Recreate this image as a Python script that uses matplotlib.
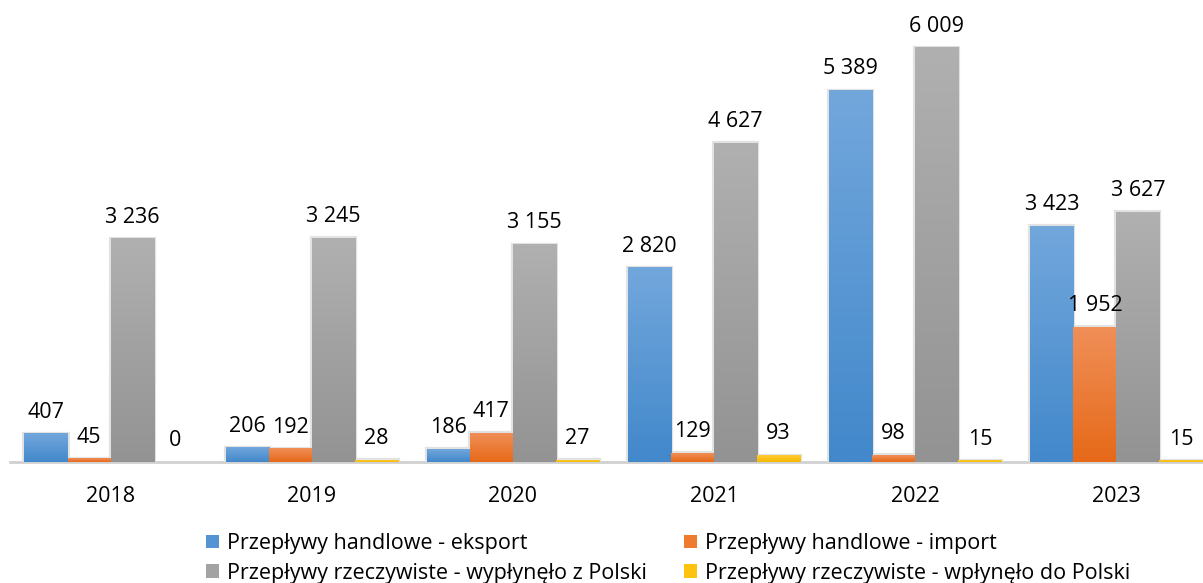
import matplotlib.pyplot as plt
import numpy as np
from matplotlib.colors import to_rgb
from matplotlib.patches import Patch

# dane [mln zl]
lata = ['2018', '2019', '2020', '2021', '2022', '2023']
eksport = [407, 206, 186, 2820, 5389, 3423]
imp = [45, 192, 417, 129, 98, 1952]
wyplynelo = [3236, 3245, 3155, 4627, 6009, 3627]
wplynelo = [0, 28, 27, 93, 15, 15]

nazwy = ['Przepływy handlowe - eksport',
         'Przepływy handlowe - import',
         'Przepływy rzeczywiste - wypłynęło z Polski',
         'Przepływy rzeczywiste - wpłynęło do Polski']
serie = [eksport, imp, wyplynelo, wplynelo]
kolory = ['#5593D3', '#EE7B2E', '#A3A3A3', '#FFC20E']
# gradient: gora / dol
grad = [('#72A7DC', '#4288CB'), ('#F08F58', '#E66918'),
        ('#B0B0B0', '#939393'), ('#FFCB35', '#F4B800')]

plt.rcParams['font.family'] = ['Open Sans', 'DejaVu Sans']
fs = 15.5

fig = plt.figure(figsize=(12.03, 5.83), dpi=100)
# os x wychodzi poza prawa krawedz (obciety wykres)
ax = fig.add_axes([10 / 1203, 121 / 583, 1207 / 1203, 448 / 583])

x = np.arange(len(lata))
w = 0.214
for i, (s, c) in enumerate(zip(serie, kolory)):
    pos = x + (i - 1.5) * w
    lw = [3 if v > 0 else 0 for v in s]
    bars = ax.bar(pos, s, w, color=c, edgecolor='#e2e2e2', linewidth=lw,
                  zorder=2)
    top, bot = grad[i]
    g = np.linspace(0, 1, 64)[:, None, None]
    img = (1 - g) * np.array(to_rgb(top)) + g * np.array(to_rgb(bot))
    for p in bars:
        if p.get_height() <= 0:
            continue
        ax.imshow(img, extent=[p.get_x(), p.get_x() + p.get_width(), 0, p.get_height()],
                  aspect='auto', zorder=3, interpolation='bilinear')
    ax.bar_label(bars, labels=[f'{v:,}'.replace(',', ' ') for v in s],
                 padding=8, fontsize=fs, color='black', zorder=4)

ax.set_xlim(-0.5, 5.5)
ax.set_ylim(0, 6500)
ax.set_xticks(x)
ax.set_xticklabels(lata, fontsize=fs)
ax.set_yticks([])
ax.tick_params(axis='x', length=0, pad=17)
for sp in ['top', 'right', 'left']:
    ax.spines[sp].set_visible(False)
ax.spines['bottom'].set_color('#d0d0d0')
ax.spines['bottom'].set_linewidth(2)
ax.spines['bottom'].set_zorder(1)

# kolejnosc wierszami: eksport, import / wyplynelo, wplynelo
order = [0, 2, 1, 3]
uchwyty = [Patch(facecolor=kolory[k], edgecolor='none') for k in order]
fig.legend(uchwyty, [nazwy[k] for k in order], ncol=2,
           loc='upper center', bbox_to_anchor=(668 / 1203, 50 / 583),
           frameon=False, fontsize=fs, handlelength=0.6, handleheight=0.6,
           handletextpad=0.35, columnspacing=1.75, labelspacing=0.4,
           borderaxespad=0, borderpad=0)

fig.savefig('out.png', dpi=100)
